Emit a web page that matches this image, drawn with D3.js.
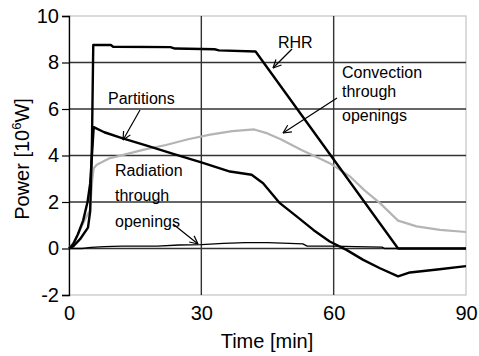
<!DOCTYPE html>
<html><head><meta charset="utf-8">
<script src="https://cdn.jsdelivr.net/npm/d3@7"></script>
<style>
body{margin:0;background:#fff;}
text{font-family:"Liberation Sans",Arial,sans-serif;fill:#000;}
</style></head>
<body>
<svg id="c" width="479" height="356"></svg>
<script>
// ---- data (time [min], power [10^6 W]) ----
const rhrT = [0,1,2.5,4.3,4.8,5.2,5.5,9.5,10,23,24,33,34,42.3,74.6,90];
const rhrV = [0,0.1,0.4,0.9,1.6,4.5,8.75,8.75,8.68,8.66,8.6,8.57,8.52,8.47,0,0];

const partT = [0,1,2,3.2,4.2,4.8,5.2,5.6,8,12,18,24,30,36.5,41.4,44,47.8,51.6,55.4,59.1,62.9,66.7,70.5,74.6,77.3,84,90];
const partV = [0,0.2,0.6,1.2,2.0,2.8,4.0,5.22,5.0,4.75,4.4,4.05,3.7,3.31,3.17,2.81,1.95,1.38,0.8,0.3,-0.06,-0.49,-0.85,-1.2,-1.03,-0.89,-0.76];

const convT = [0,1,2,3.5,4.76,5.3,5.6,6.3,9.3,11,17,22,27,32,37,42,45,48,52.7,56,59.1,63.7,67,70.5,74.6,78.8,84.1,90];
const convV = [0,0.25,0.6,1.2,1.66,3.0,3.45,3.6,3.89,3.96,4.25,4.45,4.7,4.9,5.05,5.12,4.95,4.7,4.24,3.95,3.67,3.1,2.5,1.95,1.2,0.95,0.8,0.71];

const radT = [0,3,5,8,12,20,25,30,35,40,45,50,53,54,60,65,71,71.5,90];
const radV = [0,0,0.05,0.08,0.1,0.1,0.15,0.17,0.22,0.25,0.25,0.22,0.2,0.1,0.1,0.08,0.06,0,0];

const xTicks = [0,30,60,90];
const yTicks = [-2,0,2,4,6,8,10];
const xTitle = "Time [min]";
const yTitle = ["Power [10","6","W]"];

// ---- chart ----
const svg = d3.select("#c");
const L=69, R=466, T=16, B=295;
const x = d3.scaleLinear().domain([0,90]).range([L,R]);
const y = d3.scaleLinear().domain([-2,10]).range([B,T]);

// plot frame (light)
svg.append("rect").attr("x",L).attr("y",T).attr("width",R-L).attr("height",B-T)
  .attr("fill","none").attr("stroke","#c8c8c8").attr("stroke-width",1.3);

// grid lines
svg.append("g").selectAll("line").data(yTicks.filter(d=>d>-2&&d<10)).join("line")
  .attr("x1",L).attr("x2",R).attr("y1",d=>y(d)).attr("y2",d=>y(d))
  .attr("stroke","#333").attr("stroke-width",1.4);
svg.append("g").selectAll("line").data(xTicks.filter(d=>d>0&&d<90)).join("line")
  .attr("y1",T).attr("y2",B).attr("x1",d=>x(d)).attr("x2",d=>x(d))
  .attr("stroke","#333").attr("stroke-width",1.4);

// y axis
const ya = svg.append("g").attr("transform",`translate(${L},0)`)
  .call(d3.axisLeft(y).tickValues(yTicks).tickSize(7).tickPadding(3).tickFormat(d=>String(d)));
ya.select(".domain").attr("stroke","#000").attr("stroke-width",1.3);
ya.selectAll(".tick line").attr("stroke","#000").attr("stroke-width",1.2);
ya.selectAll("text").style("font-size","20px").attr("fill","#000");

// x axis
const xa = svg.append("g").attr("transform",`translate(0,${B})`)
  .call(d3.axisBottom(x).tickValues(xTicks).tickSize(0).tickPadding(11).tickFormat(d=>String(d)));
xa.select(".domain").remove();
xa.selectAll("text").style("font-size","20px").attr("fill","#000");

// titles
svg.append("text").attr("x",267).attr("y",348).attr("text-anchor","middle")
  .style("font-size","20px").text(xTitle);
const yt = svg.append("text").attr("transform","translate(29,159) rotate(-90)")
  .attr("text-anchor","middle").style("font-size","20px");
yt.append("tspan").text(yTitle[0]);
yt.append("tspan").attr("dy",-8).style("font-size","13px").text(yTitle[1]);
yt.append("tspan").attr("dy",8).text(yTitle[2]);

// series
const line = d3.line().x(d=>x(d[0])).y(d=>y(d[1]));
const zip = (a,b)=>a.map((t,i)=>[t,b[i]]);
svg.append("path").datum(zip(convT,convV)).attr("d",line)
  .attr("fill","none").attr("stroke","#b4b4b4").attr("stroke-width",2.2).attr("stroke-linejoin","round");
svg.append("path").datum(zip(radT,radV)).attr("d",line)
  .attr("fill","none").attr("stroke","#000").attr("stroke-width",1.3).attr("stroke-linejoin","round");
svg.append("path").datum(zip(partT,partV)).attr("d",line)
  .attr("fill","none").attr("stroke","#000").attr("stroke-width",2.4).attr("stroke-linejoin","round");
svg.append("path").datum(zip(rhrT,rhrV)).attr("d",line)
  .attr("fill","none").attr("stroke","#000").attr("stroke-width",2.4).attr("stroke-linejoin","round");

// annotations
function label(lines, x0, ys){
  lines.forEach((s,i)=>svg.append("text").attr("x",x0).attr("y",ys[i]).style("font-size","16px").text(s));
}
function arrow(x1,y1,x2,y2){
  svg.append("line").attr("x1",x1).attr("y1",y1).attr("x2",x2).attr("y2",y2)
    .attr("stroke","#000").attr("stroke-width",1.2);
  const a = Math.atan2(y2-y1,x2-x1), s=9, w=0.45;
  [a+Math.PI-w, a+Math.PI+w].forEach(b=>{
    svg.append("line").attr("x1",x2).attr("y1",y2)
      .attr("x2",x2+s*Math.cos(b)).attr("y2",y2+s*Math.sin(b))
      .attr("stroke","#000").attr("stroke-width",1.2);
  });
}
label(["RHR"],278,[48]);
arrow(292,49,273,68);
label(["Convection","through","openings"],342,[78,97,121]);
arrow(337,98,283,133);
label(["Partitions"],108,[104]);
arrow(140,110,123,140);
label(["Radiation","through","openings"],115,[176,201,227]);
arrow(173,224,198,244);
</script>
</body></html>
